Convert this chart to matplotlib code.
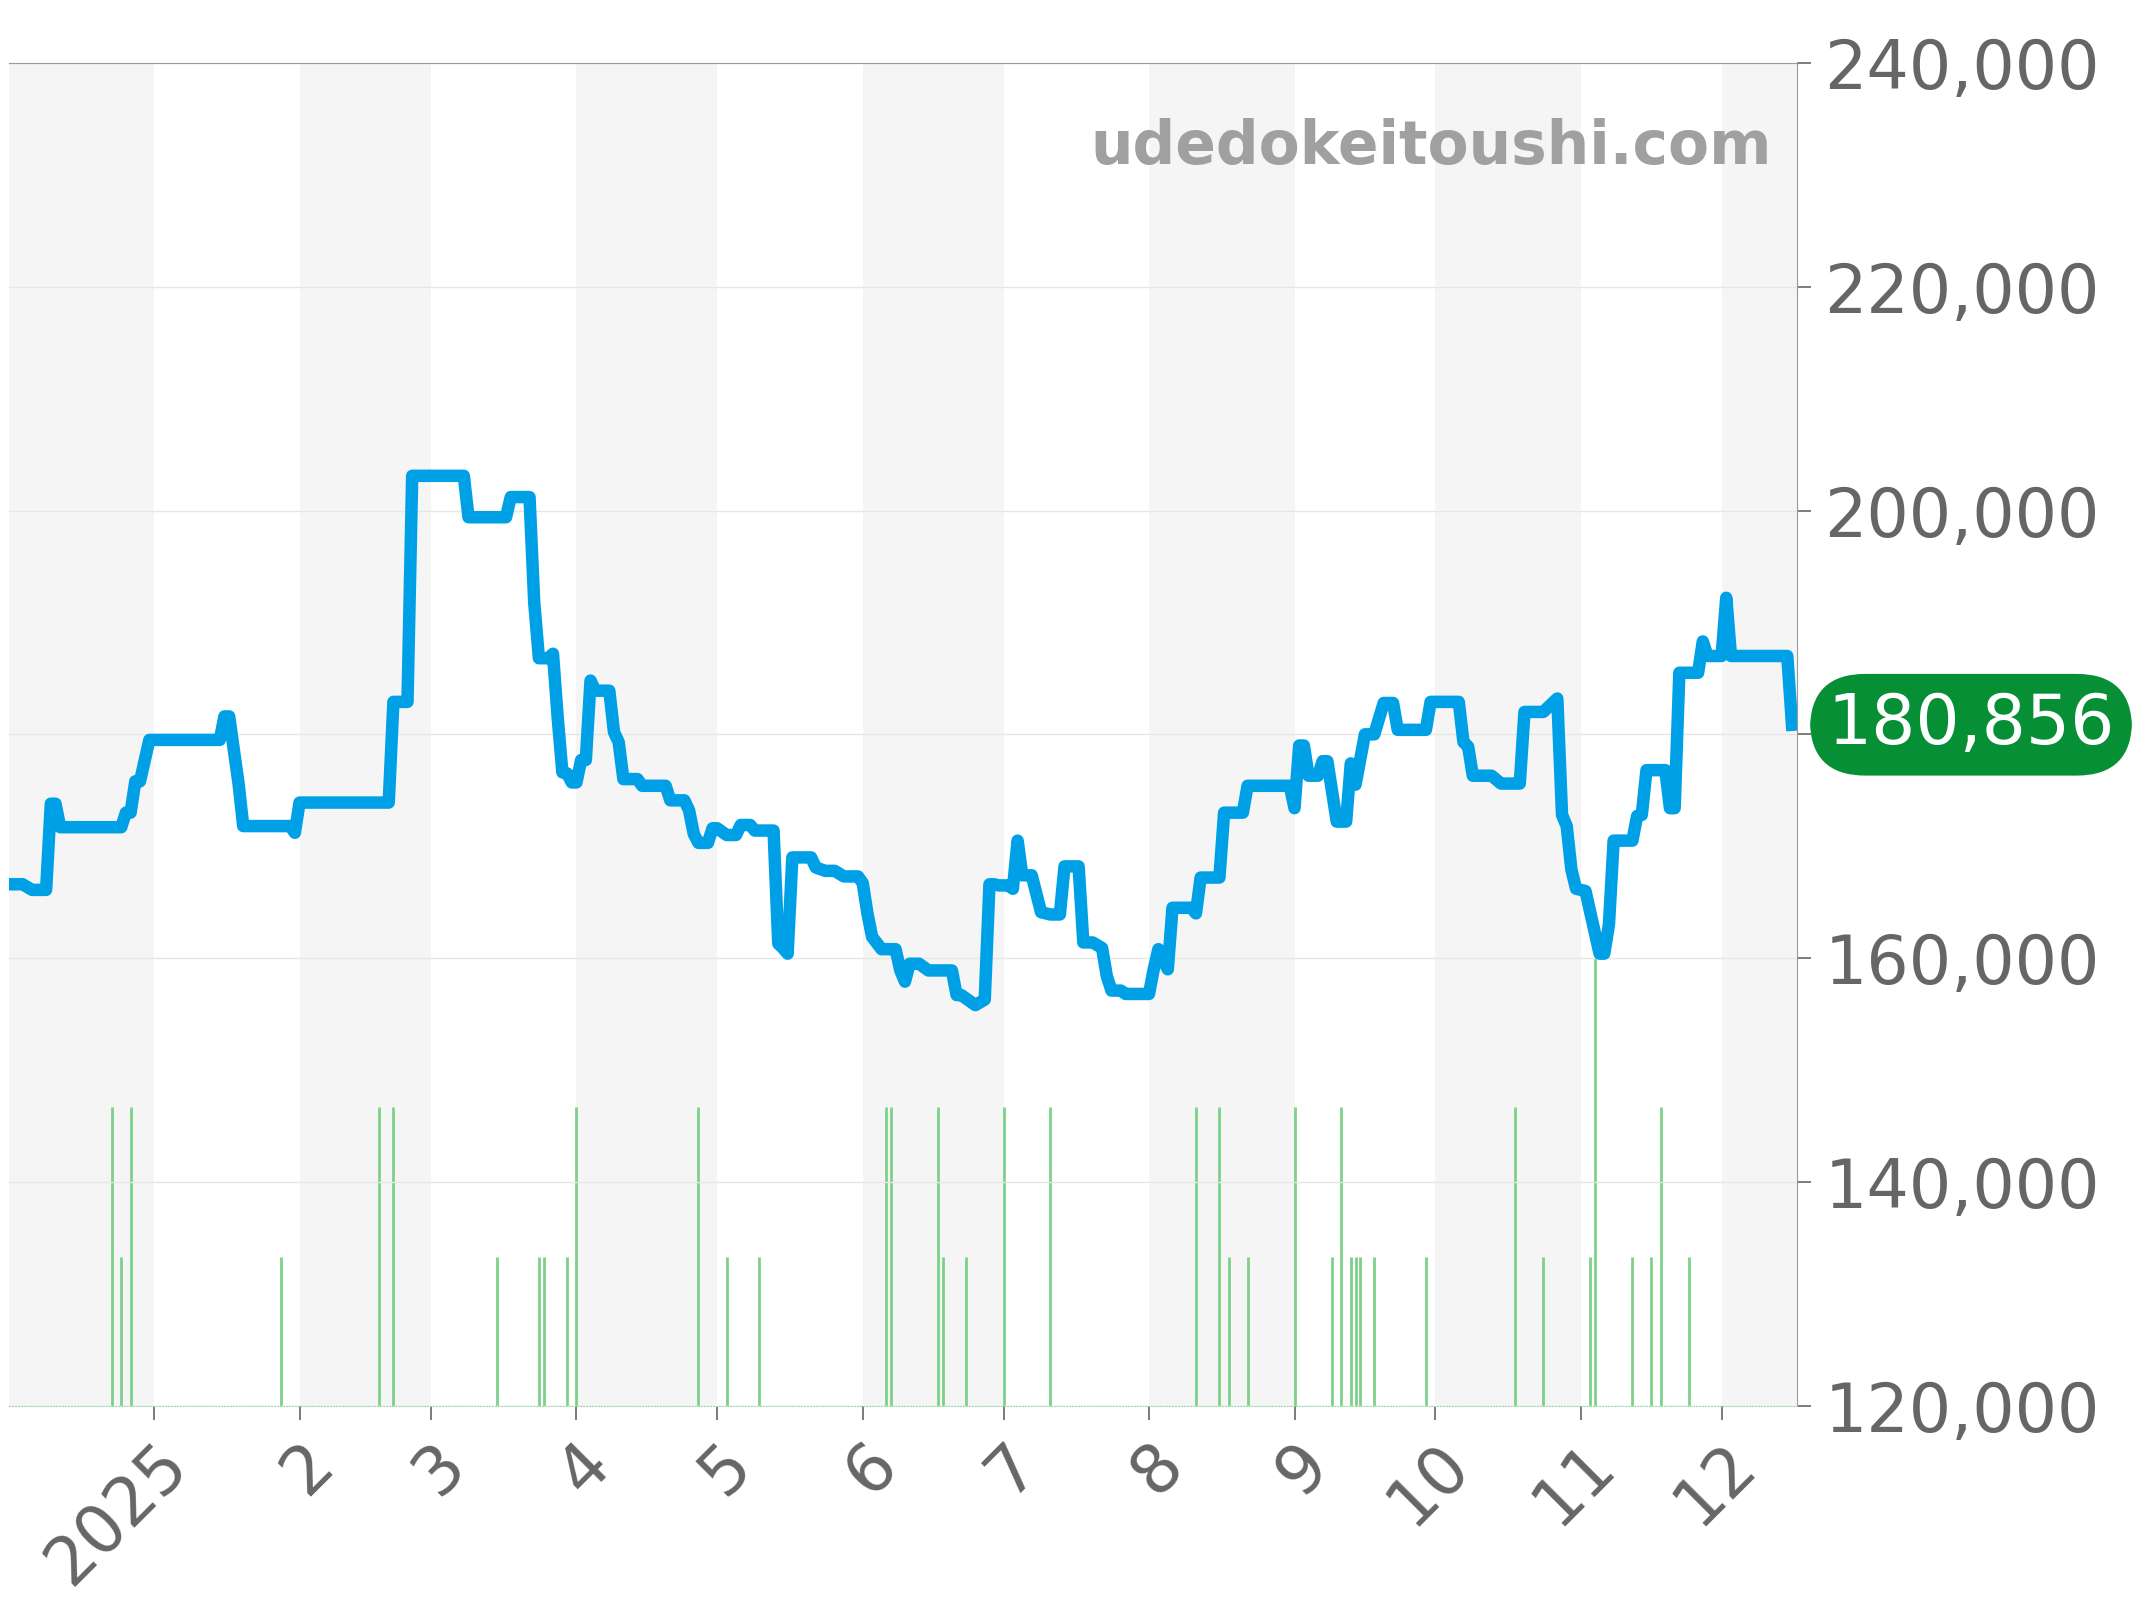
import matplotlib
matplotlib.use("Agg")
import matplotlib.pyplot as plt
import numpy as np
import pandas as pd

# 価格推移
price_dates = ["2024-12-01","2024-12-04","2024-12-06","2024-12-09","2024-12-10","2024-12-11","2024-12-12",
    "2024-12-25","2024-12-26","2024-12-27","2024-12-28","2024-12-29","2024-12-31","2025-01-15","2025-01-16",
    "2025-01-17","2025-01-19","2025-01-20","2025-01-30","2025-01-31","2025-02-01","2025-02-20","2025-02-21",
    "2025-02-24","2025-02-25","2025-03-08","2025-03-09","2025-03-17","2025-03-18","2025-03-22","2025-03-23",
    "2025-03-24","2025-03-26","2025-03-27","2025-03-28","2025-03-29","2025-03-30","2025-03-31","2025-04-01",
    "2025-04-02","2025-04-03","2025-04-04","2025-04-05","2025-04-08","2025-04-09","2025-04-10","2025-04-11",
    "2025-04-14","2025-04-15","2025-04-20","2025-04-21","2025-04-24","2025-04-25","2025-04-26","2025-04-27",
    "2025-04-29","2025-04-30","2025-05-01","2025-05-03","2025-05-05","2025-05-06","2025-05-08","2025-05-09",
    "2025-05-13","2025-05-14","2025-05-15","2025-05-16","2025-05-17","2025-05-21","2025-05-22","2025-05-24",
    "2025-05-26","2025-05-28","2025-05-31","2025-06-01","2025-06-02","2025-06-03","2025-06-05","2025-06-08",
    "2025-06-09","2025-06-10","2025-06-11","2025-06-13","2025-06-15","2025-06-20","2025-06-21","2025-06-22",
    "2025-06-25","2025-06-27","2025-06-28","2025-06-29","2025-06-30","2025-07-02","2025-07-03","2025-07-04",
    "2025-07-05","2025-07-07","2025-07-09","2025-07-11","2025-07-13","2025-07-14","2025-07-17","2025-07-18",
    "2025-07-20","2025-07-22","2025-07-23","2025-07-24","2025-07-26","2025-07-27","2025-08-01","2025-08-02",
    "2025-08-03","2025-08-05","2025-08-06","2025-08-10","2025-08-11","2025-08-12","2025-08-16","2025-08-17",
    "2025-08-21","2025-08-22","2025-08-31","2025-09-01","2025-09-02","2025-09-03","2025-09-04","2025-09-06",
    "2025-09-07","2025-09-08","2025-09-10","2025-09-12","2025-09-13","2025-09-14","2025-09-16","2025-09-18",
    "2025-09-20","2025-09-22","2025-09-23","2025-09-29","2025-09-30","2025-10-06","2025-10-07","2025-10-08",
    "2025-10-09","2025-10-13","2025-10-15","2025-10-19","2025-10-20","2025-10-24","2025-10-27","2025-10-28",
    "2025-10-29","2025-10-30","2025-10-31","2025-11-02","2025-11-05","2025-11-06","2025-11-07","2025-11-08",
    "2025-11-12","2025-11-13","2025-11-14","2025-11-15","2025-11-19","2025-11-20","2025-11-21","2025-11-22",
    "2025-11-26","2025-11-27","2025-11-28","2025-12-01","2025-12-02","2025-12-03","2025-12-15","2025-12-16"]
price_values = [166.6,166.6,166.1,166.1,173.8,173.8,171.7,
    171.7,173.0,173.0,175.8,175.8,179.5,179.5,181.6,
    181.6,175.6,171.8,171.8,171.2,173.9,173.9,182.9,
    182.9,203.1,203.1,199.4,199.4,201.2,201.2,191.8,
    186.8,186.8,187.2,181.5,176.6,176.5,175.7,175.7,
    177.7,177.7,184.8,183.9,183.9,180.2,179.3,176.0,
    176.0,175.4,175.4,174.1,174.1,173.2,171.1,170.3,
    170.3,171.6,171.6,171.0,171.0,171.9,171.9,171.4,
    171.4,161.3,160.9,160.4,169.0,169.0,168.1,167.8,
    167.8,167.3,167.3,166.7,164.0,161.9,160.8,160.8,
    158.9,157.9,159.5,159.5,158.9,158.9,156.7,156.7,
    155.8,156.3,166.6,166.6,166.5,166.5,166.2,170.5,
    167.4,167.4,164.1,163.9,163.9,168.2,168.2,161.4,
    161.4,160.9,158.4,157.1,157.1,156.8,156.8,159.0,
    160.8,159.0,164.5,164.5,164.0,167.2,167.2,173.0,
    173.0,175.4,175.4,173.4,179.0,179.0,176.3,176.3,
    177.6,177.6,172.2,172.2,177.4,175.5,180.0,180.0,
    182.8,182.8,180.4,180.4,182.9,182.9,179.3,178.9,
    176.3,176.3,175.6,175.6,182.0,182.0,183.2,172.8,
    171.8,167.9,166.2,166.0,160.4,160.4,163.0,170.5,
    170.5,172.7,172.8,176.8,176.8,173.4,173.4,185.5,
    185.5,188.3,187.0,187.0,192.2,187.0,187.0,180.856]

# 取引件数
vol_dates = ["2024-12-23","2024-12-27","2025-02-18","2025-02-21","2025-04-01","2025-04-27","2025-06-06",
    "2025-06-07","2025-06-17","2025-07-01","2025-07-11","2025-08-11","2025-08-16","2025-09-01","2025-09-11",
    "2025-10-18","2025-11-18",
    "2024-12-25","2025-01-28","2025-03-15","2025-03-24","2025-03-25","2025-03-30","2025-05-03","2025-05-10",
    "2025-06-18","2025-06-23","2025-08-18","2025-08-22","2025-09-09","2025-09-13","2025-09-14","2025-09-15",
    "2025-09-18","2025-09-29","2025-10-24","2025-11-03","2025-11-12","2025-11-16","2025-11-24",
    "2025-11-04"]
vol_counts = [2]*17 + [1]*23 + [3]

last_price = 180856
yticks = [120000, 140000, 160000, 180000, 200000, 220000, 240000]
month_labels = ["2025","2","3","4","5","6","7","8","9","10","11","12"]

pd_dates = pd.to_datetime(price_dates)
vd = pd.to_datetime(vol_dates)

fig = plt.figure(figsize=(21.44, 16), dpi=100)
ax = fig.add_axes([0.004, 0.1214, 0.834, 0.8393])
x0, x1 = pd.Timestamp("2024-12-01"), pd.Timestamp("2025-12-17")

ax2 = ax.twinx()
# 月ごとの背景
months = pd.date_range("2024-12-01", "2026-01-01", freq="MS")
for i in range(len(months) - 1):
    if i % 2 == 0:
        ax2.axvspan(months[i], months[i + 1], color="#f5f5f5", zorder=0, lw=0)
ax2.vlines(vd, 0, vol_counts, color="#7dd08a", lw=2, zorder=2)
ax2.set_ylim(0, 9)
ax2.axis("off")
ax.set_zorder(ax2.get_zorder() + 1)
ax.patch.set_visible(False)

ax.plot(pd_dates, np.array(price_values) * 1000, color="#00a0e6", lw=9, solid_joinstyle="round")
ax.set_xlim(x0, x1)
ax2.set_xlim(x0, x1)
ax.set_ylim(120000, 240000)
ax.yaxis.tick_right()
ax.set_yticks(yticks)
ax.set_yticklabels([f"{v:,}" if v != 180000 else "" for v in yticks])
ax.grid(axis="y", color="#e6e6e6", lw=1)
ax.tick_params(axis="y", labelsize=48, colors="#666666", length=10, width=1.2, pad=10)
ax.set_xticks(months[1:13])
ax.set_xticklabels(month_labels, rotation=45, ha="right", rotation_mode="anchor")
ax.tick_params(axis="x", labelsize=48, colors="#666666", length=10, width=1.2, pad=8)
ax.spines["left"].set_visible(False)
ax.spines["top"].set_color("#999999")
ax.spines["right"].set_color("#999999")
ax.spines["bottom"].set_color("#9fd9a8")
ax.spines["bottom"].set_linestyle(":")

ax.text(0.986, 0.937, "udedokeitoushi.com", transform=ax.transAxes, ha="right", va="center",
        fontsize=43, fontweight="bold", color="#a0a0a0")

ax.annotate(f"{last_price:,}", xy=(1.0, last_price), xycoords=("axes fraction", "data"),
            xytext=(1.0975, last_price), textcoords=("axes fraction", "data"),
            ha="center", va="center", fontsize=50, color="white",
            bbox=dict(boxstyle="round,pad=0.25,rounding_size=0.8", fc="#078f36", ec="none"))

fig.savefig("out.png", dpi=100)
